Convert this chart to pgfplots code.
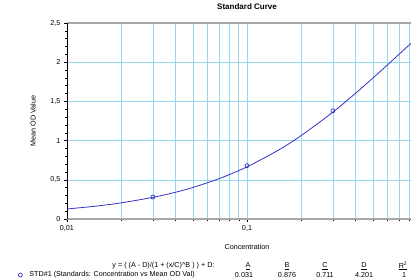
\documentclass[border=0pt]{standalone}
\usepackage{pgfplots}
\pgfplotsset{compat=1.18}
\usepackage{fontspec}
\setmainfont{Liberation Sans}
\definecolor{gridc}{RGB}{150,215,240}
\definecolor{curvec}{RGB}{50,50,200}
\newcommand{\sz}{\fontsize{7.2}{8.5}\selectfont}
\begin{document}
\begin{tikzpicture}
\useasboundingbox (0,0) rectangle (411pt,279pt);
\clip (0,0) rectangle (411pt,279pt);
\begin{axis}[
  at={(67pt,60pt)}, anchor=south west,
  scale only axis, width=360pt, height=196pt,
  xmode=log, xmin=0.01, xmax=1, ymin=0, ymax=2.5,
  axis x line=box, axis y line=left,
  x axis line style={gray!70, line width=1.1pt, -},
  y axis line style={black, line width=0.6pt, -},
  xtick={0.01,0.1}, xticklabels={{0,01},{0,1}},
  minor xtick={0.02,0.03,0.04,0.05,0.06,0.07,0.08,0.09,0.2,0.3,0.4,0.5,0.6,0.7,0.8,0.9},
  ytick={0,0.5,1,1.5,2,2.5},
  yticklabels={0,{0,5},1,{1,5},2,{2,5}},
  minor y tick num=4,
  xtick pos=bottom, ytick pos=left,
  tick align=outside,
  tick style={black, line width=0.5pt},
  major tick length=3pt, minor tick length=2pt,
  xmajorgrids=true, xminorgrids=true, ymajorgrids=true, yminorgrids=false,
  major grid style={gridc, line width=0.6pt},
  minor grid style={gridc, line width=0.6pt},
  tick label style={font=\sz},
  /pgf/number format/assume math mode=true,
  xlabel={Concentration},
  xlabel style={font=\sz, at={(axis description cs:0.5,-0.143)}, anchor=center},
  ylabel={Mean OD Value},
  ylabel style={font=\sz, at={(axis description cs:-0.094,0.5)}, anchor=center, rotate=0},
  title={Standard Curve},
  title style={font=\fontsize{8}{9}\selectfont\bfseries, at={(axis description cs:0.5,1.051)}, anchor=center},
  legend style={at={(axis description cs:-0.144,-0.286)}, anchor=west, draw=none, fill=none, font=\sz, inner sep=0pt},
  legend image code/.code={\path[draw=none,fill=none] (0pt,-2pt) rectangle (12pt,2pt); \draw[#1] plot coordinates {(5pt,0pt)};},
]
\addplot[curvec, line width=0.8pt, smooth, forget plot] coordinates {
(0.01,0.128)(0.012,0.145)(0.015,0.168)(0.02,0.206)(0.03,0.276)(0.04,0.341)(0.05,0.402)(0.07,0.515)(0.1,0.665)(0.15,0.881)(0.2,1.064)(0.3,1.363)(0.4,1.602)(0.5,1.797)(0.6,1.961)(0.7,2.102)(0.8,2.224)(0.9,2.330)(1,2.425)
};
\addplot[only marks, mark=o, mark size=2pt, curvec, mark options={line width=0.7pt}] coordinates {
(0.03,0.28)(0.1,0.68)(0.3,1.38)
};
\addlegendentry{STD\#1 (Standards: Concentration vs Mean OD Val)}
\end{axis}
\node[font=\sz, anchor=east] at (218pt,13pt) {y = ( (A - D)/(1 + (x/C)\^{}B ) ) + D:};
\node[font=\sz] at (248pt,13pt) {\underline{A}};
\node[font=\sz] at (287pt,13pt) {\underline{B}};
\node[font=\sz] at (325pt,13pt) {\underline{C}};
\node[font=\sz] at (364pt,13pt) {\underline{D}};
\node[font=\sz] at (403pt,13pt) {\underline{R\textsuperscript{2}}};
\node[font=\sz] at (244pt,4pt) {0.031};
\node[font=\sz] at (287pt,4pt) {0.876};
\node[font=\sz] at (325pt,4pt) {0.711};
\node[font=\sz] at (364pt,4pt) {4.201};
\node[font=\sz] at (404pt,4pt) {1};
\end{tikzpicture}
\end{document}
